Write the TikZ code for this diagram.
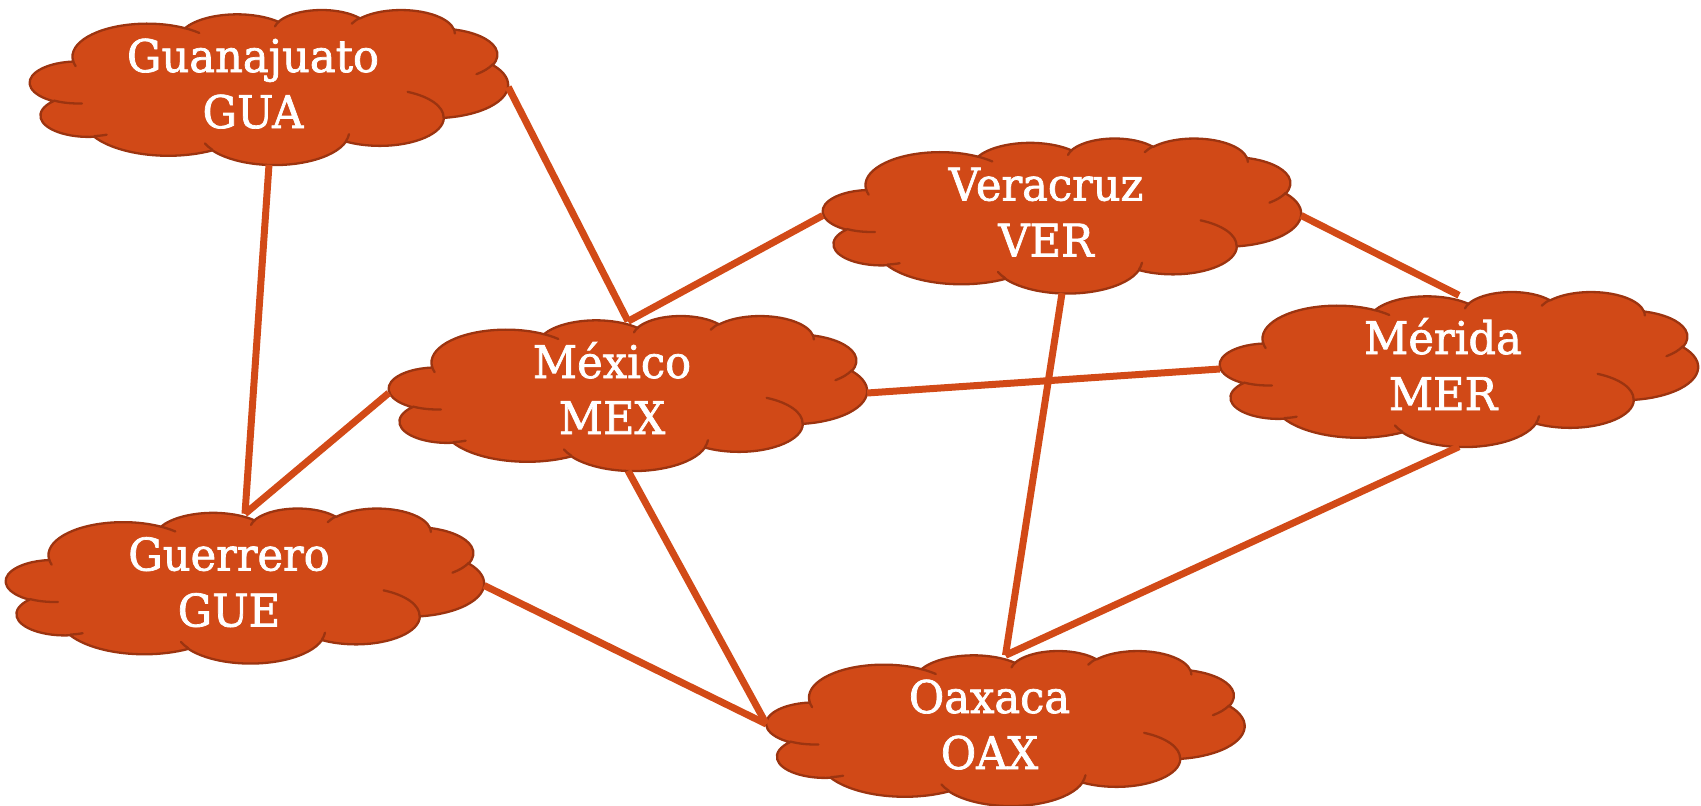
\documentclass[tikz,border=0pt]{standalone}
\usepackage{fontspec}
\setmainfont{DejaVu Serif}[FakeBold=1.6, FakeStretch=0.96]
\definecolor{cloudfill}{HTML}{D14917}
\definecolor{cloudline}{HTML}{9C3410}
\definecolor{linkcol}{HTML}{D24A17}

% elliptical arc given by its radii, start and sweep angles measured as
% directions from the centre (converted to TikZ's parametric angles)
\newcommand\carc[4]{arc[x radius=#1, y radius=#2,
  start angle={atan2((#1)*sin(#3),(#2)*cos(#3))},
  delta angle={mod(atan2((#1)*sin((#3)+(#4)),(#2)*cos((#3)+(#4)))-atan2((#1)*sin(#3),(#2)*cos(#3))+720,360)}]}

% cloud outline in a 432 x 432 box
\newcommand\cloudoutline{(39.00,143.70)
  \carc{67.53}{91.90}{-190.4875}{123.7805}
  \carc{53.33}{72.67}{-144.1024}{89.9452}
  \carc{43.65}{59.45}{-145.8079}{99.7230}
  \carc{48.57}{65.95}{-130.9861}{117.2417}
  \carc{53.33}{72.73}{-78.7089}{109.0269}
  \carc{67.75}{92.20}{-46.2673}{130.2690}
  \carc{57.85}{78.67}{0.6250}{114.0333}
  \carc{67.52}{92.15}{22.4516}{115.1726}
  \carc{77.20}{105.43}{66.2426}{75.7110}
  \carc{43.60}{59.18}{-274.9421}{146.7356}
  \carc{43.45}{59.45}{-246.8285}{152.5189} -- cycle}

% the short inner creases of the cloud
\newcommand\cloudcreases{%
  (46.93,261.77) \carc{43.45}{59.45}{86.7420}{26.4295}
  (69.28,348.99) \carc{43.60}{59.18}{73.6105}{11.4475}
  (164.78,390.90) \carc{67.52}{92.15}{137.6242}{14.0811}
  (288.27,347.51) \carc{67.52}{92.15}{6.4533}{15.9984}
  (341.29,229.54) \carc{57.85}{78.67}{-70.2924}{70.9174}
  (417.98,153.54) \carc{53.33}{72.73}{30.3180}{27.7515}
  (383.24,54.26) \carc{48.57}{65.95}{-13.7443}{14.8589}
  (290.78,39.52) \carc{48.57}{65.95}{-149.1815}{18.1954}
  (221.41,47.20) \carc{43.65}{59.45}{-163.4943}{17.6864}
  (140.00,51.92) \carc{67.53}{91.90}{-66.7070}{12.3194}
  (41.27,157.89) \carc{67.53}{91.90}{157.6544}{11.8582}}

\tikzset{
  cloudbox/.style={rectangle, inner sep=0pt, minimum width=478pt, minimum height=155pt},
  cloudbody/.style={fill=cloudfill, draw=cloudline, line width=2.3pt, line join=round},
  cloudcrease/.style={draw=cloudline, line width=2.3pt, line cap=round},
  cloudtext/.style={anchor=base, inner sep=0pt, text=white, font=\fontsize{45}{56}\selectfont},
  link/.style={draw=linkcol, line width=7pt}
}

% #1 name, #2 #3 centre, #4 #5 the two text lines
\newcommand\placecloud[5]{%
  \node[cloudbox] (#1) at (#2,#3) {};
  \begin{scope}[shift={(#2-239,#3-77.5)}, x=1.10648pt, y=-0.35880pt]
    \path[cloudbody] \cloudoutline;
    \path[cloudcrease] \cloudcreases;
  \end{scope}
  \node[cloudtext] (#1-name) at (#2-16,#3-15) {#4};
  \node[cloudtext] (#1-code) at (#2-16,#3+41) {#5};
}

\begin{document}
\begin{tikzpicture}[x=1pt, y=-1pt]
  \useasboundingbox (0,0) rectangle (1701,806);

  \placecloud{GUA}{269}{87}{Guanajuato}{GUA}
  \placecloud{MEX}{628}{393}{México}{MEX}
  \placecloud{VER}{1062}{215.5}{Veracruz}{VER}
  \placecloud{MER}{1459}{369}{Mérida}{MER}
  \placecloud{GUE}{245}{585.5}{Guerrero}{GUE}
  \placecloud{OAX}{1005.5}{728}{Oaxaca}{OAX}

  \draw[link] (GUA.south) -- ([yshift=-6pt]GUE.north);
  \draw[link] (GUA.east) -- ([yshift=-6pt]MEX.north);
  \draw[link] (MEX.west) -- ([yshift=-6pt]GUE.north);
  \draw[link] ([yshift=-6pt]MEX.north) -- (VER.west);
  \draw[link] (MEX.east) -- (MER.west);
  \draw[link] (MEX.south) -- ([yshift=4pt]OAX.west);
  \draw[link] (GUE.east) -- ([yshift=4pt]OAX.west);
  \draw[link] (VER.east) -- ([yshift=-4pt]MER.north);
  \draw[link] (VER.south) -- ([yshift=-5pt]OAX.north);
  \draw[link] (MER.south) -- ([yshift=-5pt]OAX.north);
\end{tikzpicture}
\end{document}
